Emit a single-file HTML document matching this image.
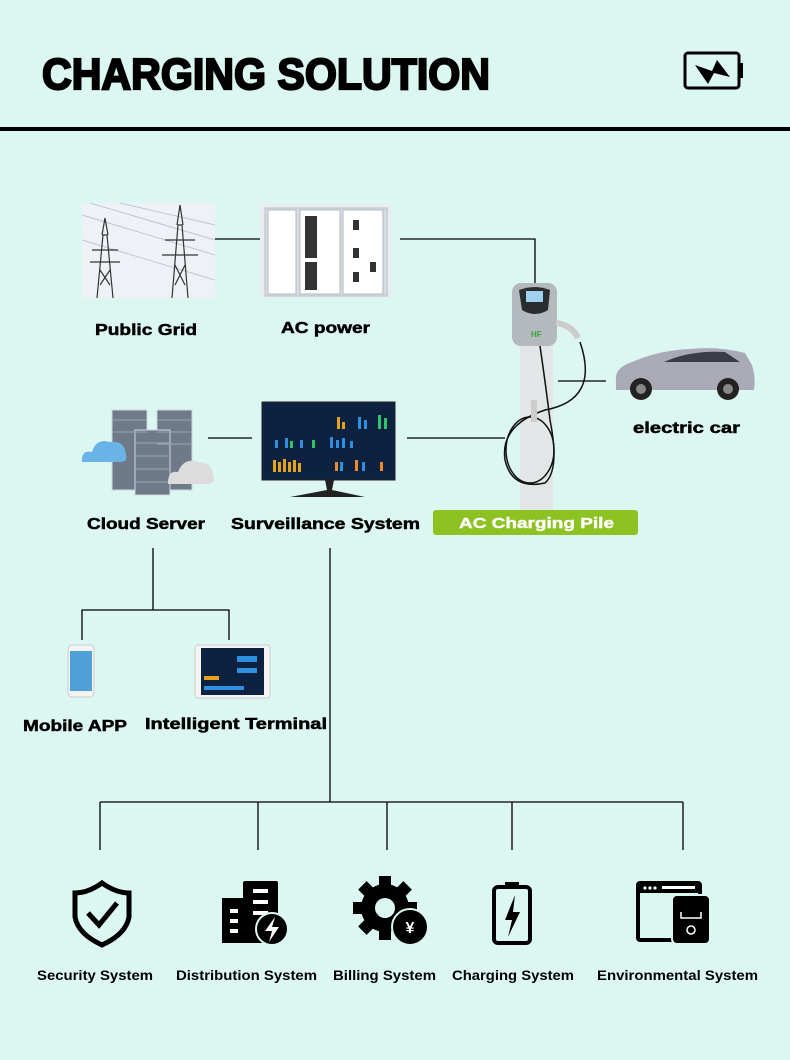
<!DOCTYPE html>
<html><head><meta charset="utf-8"><style>
html,body{margin:0;padding:0;background:#dcf7f2;}
svg{display:block;}
.t{font-family:"Liberation Sans",Arial,sans-serif;font-weight:bold;fill:#000;}
.h{stroke:#000;stroke-width:0.5;}
</style></head><body>
<svg width="790" height="1060" viewBox="0 0 790 1060" xmlns="http://www.w3.org/2000/svg">
<rect width="790" height="1060" fill="#dcf7f2"/>
<text class="t" x="42" y="89" font-size="44" textLength="448" lengthAdjust="spacingAndGlyphs" stroke="#000" stroke-width="2.2">CHARGING SOLUTION</text>
<rect x="0" y="127" width="790" height="4" fill="#000"/>
<rect x="685" y="53" width="54" height="35" rx="3" fill="none" stroke="#000" stroke-width="3"/>
<rect x="739" y="63" width="4" height="15" fill="#000"/>
<path d="M695 65 L712 71 L717 60 L730 77 L714 73 L708 84 Z" fill="#000"/>

<g stroke="#000" stroke-width="1.3" fill="none">
<line x1="215" y1="239" x2="260" y2="239"/>
<polyline points="400,239 535,239 535,283"/>
<line x1="558" y1="381" x2="606" y2="381"/>
<line x1="208" y1="438" x2="252" y2="438"/>
<line x1="407" y1="438" x2="505" y2="438"/>
<polyline points="153,548 153,610"/>
<polyline points="82,640 82,610 229,610 229,640"/>
<line x1="330" y1="548" x2="330" y2="802"/>
<line x1="100" y1="802" x2="683" y2="802"/>
<line x1="100" y1="802" x2="100" y2="850"/>
<line x1="258" y1="802" x2="258" y2="850"/>
<line x1="387" y1="802" x2="387" y2="850"/>
<line x1="512" y1="802" x2="512" y2="850"/>
<line x1="683" y1="802" x2="683" y2="850"/>
</g>

<rect x="82" y="203" width="133" height="95" fill="#eef2f6"/>
<g stroke="#bcc8d4" stroke-width="1" fill="none"><path d="M82 215 L215 255 M90 203 L215 240 M82 240 L215 280 M120 203 L215 225"/></g>
<g stroke="#333" stroke-width="1.2" fill="none">
<path d="M97 298 L103 235 L107 235 L113 298 M92 250 L118 250 M90 262 L120 262 M102 235 L105 218 L108 235 M100 270 L110 285 M110 270 L100 285"/>
<path d="M172 298 L178 225 L182 225 L188 298 M165 240 L195 240 M162 255 L198 255 M177 225 L180 205 L183 225 M175 265 L185 285 M185 265 L175 285"/>
</g>
<rect x="260" y="203" width="132" height="95" fill="#e8edf1"/>
<rect x="265" y="208" width="122" height="88" fill="#d7dde3" stroke="#b8c0c8"/>
<g fill="#fff" stroke="#b0b8c0"><rect x="268" y="210" width="28" height="84"/><rect x="300" y="210" width="40" height="84"/><rect x="343" y="210" width="40" height="84"/></g>
<g fill="#333"><rect x="305" y="216" width="12" height="42"/><rect x="305" y="262" width="12" height="28"/><rect x="353" y="220" width="6" height="10"/><rect x="353" y="248" width="6" height="10"/><rect x="353" y="272" width="6" height="10"/><rect x="370" y="262" width="6" height="10"/></g>
<text class="t h" x="95" y="335" font-size="16" textLength="102" lengthAdjust="spacingAndGlyphs">Public Grid</text>
<text class="t h" x="281" y="333" font-size="16" textLength="89" lengthAdjust="spacingAndGlyphs">AC power</text>

<g fill="#6f7a88" stroke="#cfd6de" stroke-width="1">
<rect x="112" y="410" width="35" height="80"/><rect x="157" y="410" width="35" height="80"/><rect x="135" y="430" width="35" height="65"/>
</g>
<g stroke="#9aa6b4" stroke-width="1">
<line x1="112" y1="420" x2="147" y2="420"/><line x1="112" y1="432" x2="147" y2="432"/><line x1="157" y1="420" x2="192" y2="420"/><line x1="157" y1="432" x2="192" y2="432"/><line x1="157" y1="444" x2="192" y2="444"/><line x1="135" y1="443" x2="170" y2="443"/><line x1="135" y1="456" x2="170" y2="456"/><line x1="135" y1="469" x2="170" y2="469"/><line x1="135" y1="482" x2="170" y2="482"/>
</g>
<path d="M82 460 Q82 450 92 452 Q96 438 110 442 Q125 440 126 455 Q128 462 120 462 L82 462 Z" fill="#6ab3e6"/>
<path d="M168 483 Q168 470 178 472 Q184 457 198 462 Q212 462 213 475 Q216 483 208 484 L168 484 Z" fill="#dcdcdc"/>
<rect x="262" y="402" width="133" height="78" fill="#0c2240" stroke="#222"/>
<g fill="#e7a21c"><rect x="273" y="460" width="3" height="12"/><rect x="278" y="462" width="3" height="10"/><rect x="283" y="459" width="3" height="13"/><rect x="288" y="462" width="3" height="10"/><rect x="293" y="460" width="3" height="12"/><rect x="298" y="463" width="3" height="9"/><rect x="337" y="417" width="3" height="12"/><rect x="342" y="422" width="3" height="7"/></g>
<g fill="#2f8fe0"><rect x="275" y="440" width="3" height="8"/><rect x="285" y="438" width="3" height="10"/><rect x="300" y="440" width="3" height="8"/><rect x="330" y="437" width="3" height="11"/><rect x="336" y="440" width="3" height="8"/><rect x="342" y="438" width="3" height="10"/><rect x="350" y="441" width="3" height="7"/><rect x="358" y="417" width="3" height="12"/><rect x="364" y="420" width="3" height="9"/><rect x="340" y="462" width="3" height="9"/><rect x="362" y="462" width="3" height="9"/></g>
<g fill="#2ec46a"><rect x="378" y="415" width="3" height="14"/><rect x="384" y="418" width="3" height="11"/><rect x="290" y="441" width="3" height="7"/><rect x="312" y="440" width="3" height="8"/></g>
<g fill="#f08a2a"><rect x="335" y="462" width="3" height="9"/><rect x="355" y="460" width="3" height="11"/><rect x="380" y="462" width="3" height="9"/></g>
<path d="M325 480 L327 490 L290 497 L365 497 L332 490 L334 480 Z" fill="#222"/>
<text class="t h" x="87" y="529" font-size="16" textLength="118" lengthAdjust="spacingAndGlyphs">Cloud Server</text>
<text class="t h" x="231" y="529" font-size="16" textLength="189" lengthAdjust="spacingAndGlyphs">Surveillance System</text>

<rect x="520" y="340" width="33" height="172" fill="#e2e6e6"/>
<rect x="512" y="283" width="45" height="63" rx="9" fill="#b4b9bd"/>
<path d="M519 290 Q535 284 550 290 L548 310 Q535 318 522 310 Z" fill="#2a2d30"/>
<rect x="526" y="291" width="17" height="11" fill="#9fd0f0"/>
<text x="531" y="337" font-size="8" font-family="Liberation Sans" font-weight="bold" fill="#3aa33a">HF</text>
<path d="M556 323 Q572 325 578 338" stroke="#ccc" stroke-width="6" fill="none"/>
<g stroke="#111" stroke-width="1.5" fill="none">
<path d="M580 342 Q600 400 545 410 Q500 425 505 460 Q512 490 545 483 Q560 470 550 420 Q545 380 540 346"/>
<ellipse cx="530" cy="450" rx="24" ry="33"/>
</g>
<rect x="531" y="400" width="6" height="22" fill="#ccc"/>
<rect x="433" y="510" width="205" height="25" rx="3" fill="#8cc221"/>
<text class="t" x="459" y="528" font-size="15" style="fill:#fff;stroke:#fff;stroke-width:0.4" textLength="155" lengthAdjust="spacingAndGlyphs">AC Charging Pile</text>

<path d="M616 381 Q614 368 632 362 Q660 350 690 349 Q718 346 745 353 L752 365 Q756 378 754 390 L616 390 Z" fill="#a9aab6"/>
<path d="M664 362 Q690 350 725 352 L740 362 Z" fill="#3a3d48"/>
<circle cx="641" cy="389" r="11" fill="#222"/><circle cx="641" cy="389" r="5" fill="#888"/>
<circle cx="728" cy="389" r="11" fill="#222"/><circle cx="728" cy="389" r="5" fill="#888"/>
<text class="t h" x="633" y="433" font-size="16" textLength="107" lengthAdjust="spacingAndGlyphs">electric car</text>

<rect x="68" y="645" width="26" height="52" rx="4" fill="#f4f4f4" stroke="#ccc"/>
<rect x="70" y="651" width="22" height="40" fill="#4fa0d8"/>
<rect x="195" y="645" width="75" height="53" rx="3" fill="#f4f4f4" stroke="#ccc"/>
<rect x="201" y="648" width="63" height="47" fill="#0c2240"/>
<g fill="#e7a21c"><rect x="204" y="676" width="15" height="4"/></g>
<g fill="#2f8fe0"><rect x="237" y="656" width="20" height="6"/><rect x="237" y="668" width="20" height="5"/><rect x="204" y="686" width="40" height="4"/></g>
<text class="t h" x="23" y="731" font-size="16" textLength="104" lengthAdjust="spacingAndGlyphs">Mobile APP</text>
<text class="t h" x="145" y="729" font-size="16" textLength="182" lengthAdjust="spacingAndGlyphs">Intelligent Terminal</text>

<path d="M102 883 Q88 893 75 893 L75 917 Q78 934 102 945 Q126 934 129 917 L129 893 Q116 893 102 883 Z" fill="none" stroke="#000" stroke-width="5"/>
<path d="M88 913 L99 925 L117 903" fill="none" stroke="#000" stroke-width="5"/>
<rect x="222" y="898" width="26" height="45" fill="#000"/>
<rect x="243" y="881" width="35" height="62" rx="2" fill="#000"/>
<g fill="#fff"><rect x="230" y="909" width="8" height="4"/><rect x="230" y="919" width="8" height="4"/><rect x="230" y="929" width="8" height="4"/><rect x="253" y="889" width="15" height="4"/><rect x="253" y="900" width="15" height="4"/><rect x="253" y="911" width="15" height="4"/></g>
<circle cx="272" cy="929" r="16" fill="#000" stroke="#dcf7f2" stroke-width="2"/>
<path d="M275 917 L265 931 L272 931 L269 942 L279 927 L272 927 Z" fill="#fff"/>
<g transform="translate(385 908)">
<circle r="24" fill="#000"/>
<g fill="#000"><rect x="-6" y="-32" width="12" height="12"/><rect x="-6" y="20" width="12" height="12"/><rect x="-32" y="-6" width="12" height="12"/><rect x="20" y="-6" width="12" height="12"/>
<rect x="-6" y="-32" width="12" height="12" transform="rotate(45)"/><rect x="-6" y="20" width="12" height="12" transform="rotate(45)"/><rect x="-32" y="-6" width="12" height="12" transform="rotate(45)"/><rect x="20" y="-6" width="12" height="12" transform="rotate(45)"/></g>
<circle r="10" fill="#dcf7f2"/>
</g>
<ellipse cx="410" cy="927" rx="18" ry="18" fill="#000" stroke="#dcf7f2" stroke-width="2"/>
<text x="410" y="933" font-size="16" text-anchor="middle" font-family="Liberation Sans" font-weight="bold" fill="#fff">¥</text>
<rect x="494" y="887" width="36" height="56" rx="4" fill="none" stroke="#000" stroke-width="4"/>
<rect x="505" y="882" width="14" height="5" fill="#000"/>
<path d="M515 895 L505 920 L512 920 L508 937 L520 912 L513 912 Z" fill="#000"/>
<rect x="638" y="883" width="62" height="57" rx="2" fill="none" stroke="#000" stroke-width="4"/>
<rect x="638" y="883" width="62" height="10" fill="#000"/>
<g fill="#fff"><circle cx="645" cy="888" r="1.6"/><circle cx="650" cy="888" r="1.6"/><circle cx="655" cy="888" r="1.6"/><rect x="662" y="886" width="33" height="3"/></g>
<rect x="672" y="895" width="38" height="49" rx="5" fill="#000" stroke="#dcf7f2" stroke-width="2"/>
<path d="M681 912 L681 918 L701 918 L701 912" fill="none" stroke="#fff" stroke-width="1.5"/>
<circle cx="691" cy="930" r="4" fill="none" stroke="#fff" stroke-width="1.5"/>
<text class="t" x="37" y="980" font-size="14" textLength="116" lengthAdjust="spacingAndGlyphs">Security System</text>
<text class="t" x="176" y="980" font-size="14" textLength="141" lengthAdjust="spacingAndGlyphs">Distribution System</text>
<text class="t" x="333" y="980" font-size="14" textLength="103" lengthAdjust="spacingAndGlyphs">Billing System</text>
<text class="t" x="452" y="980" font-size="14" textLength="122" lengthAdjust="spacingAndGlyphs">Charging System</text>
<text class="t" x="597" y="980" font-size="14" textLength="161" lengthAdjust="spacingAndGlyphs">Environmental System</text>
</svg>
</body></html>
